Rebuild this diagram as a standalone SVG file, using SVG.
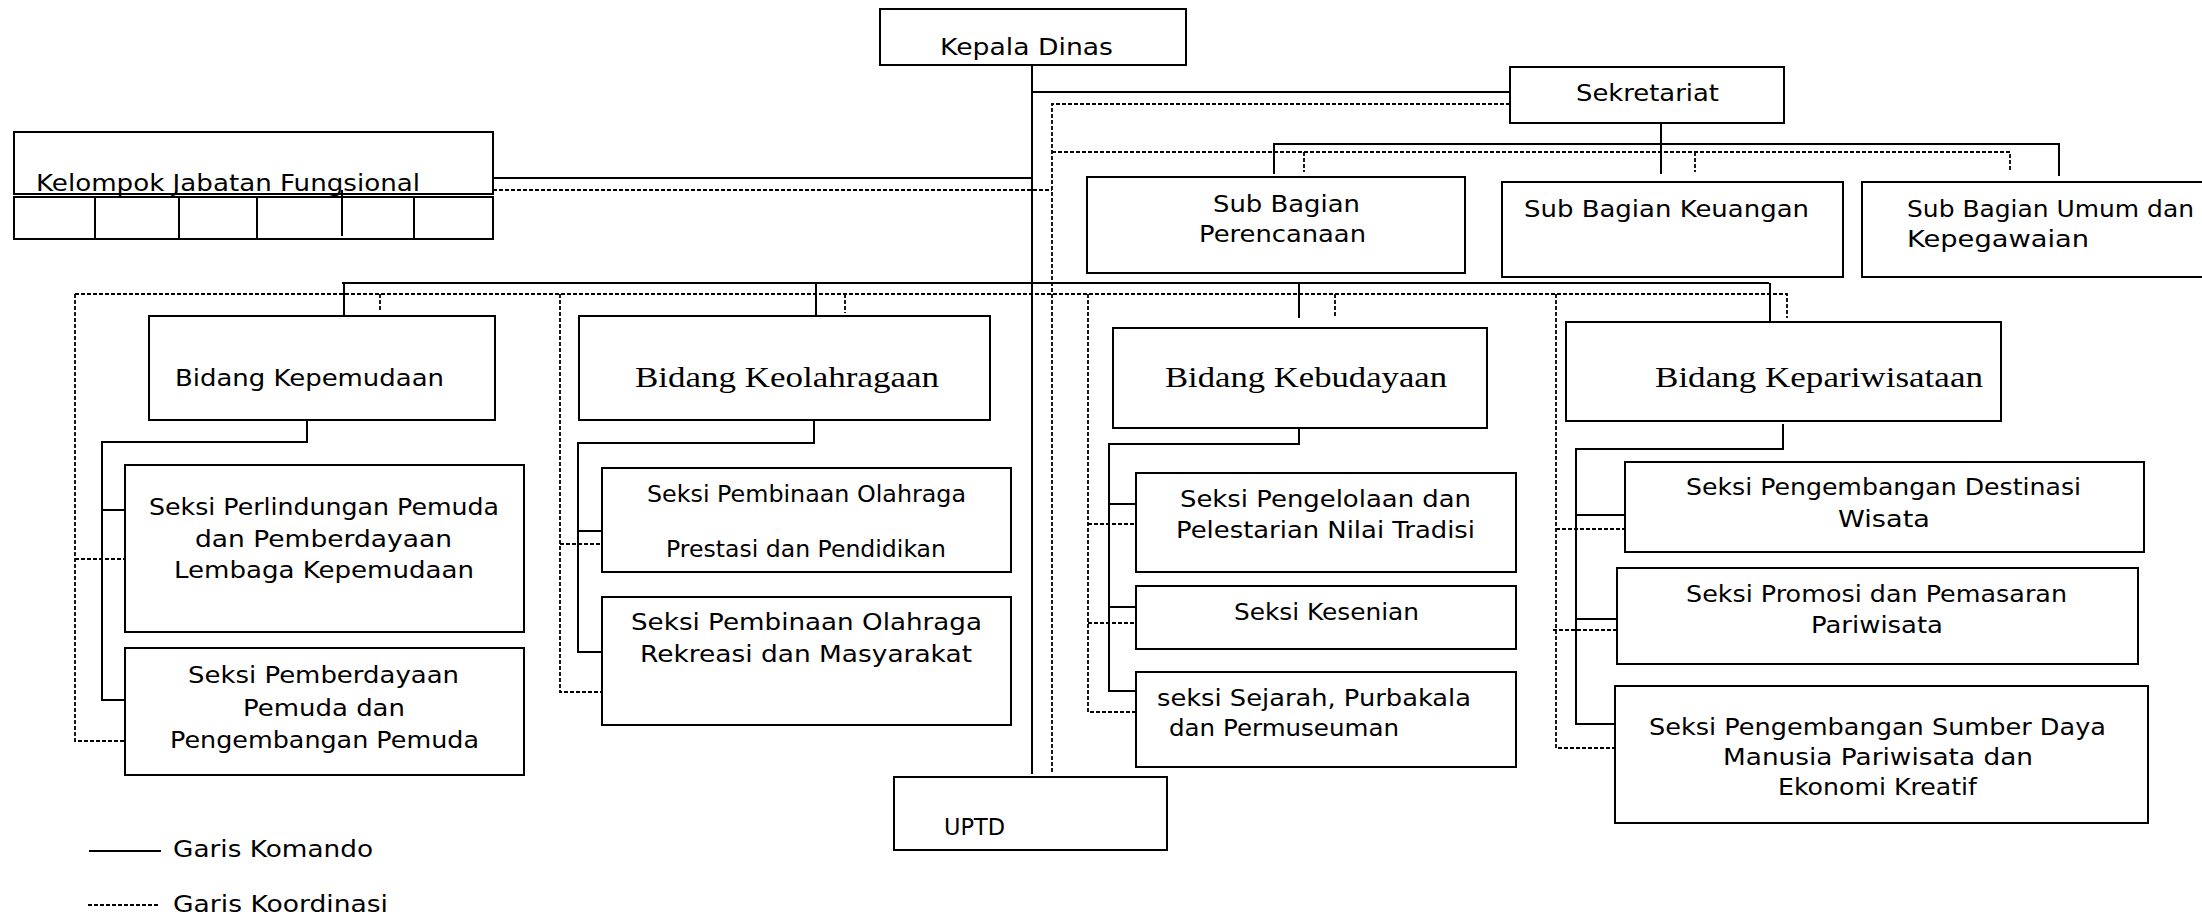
<svg xmlns="http://www.w3.org/2000/svg" width="2202" height="915" viewBox="0 0 2202 915">
<style>
.bx{fill:#fff;stroke:#000;stroke-width:2}
.s{fill:none;stroke:#000;stroke-width:2}
.d{fill:none;stroke:#000;stroke-width:1.8;stroke-dasharray:4 2}
.t{font-family:"DejaVu Sans","Liberation Sans",sans-serif;font-size:23px;fill:#000}
.sf{font-family:"Liberation Serif","DejaVu Serif",serif;font-size:30px;fill:#000}
.m{text-anchor:middle}
</style>
<rect width="2202" height="915" fill="#fff"/>
<g id="connectors">
<path class="s" d="M1032 65V774M1032 92H1510M493 178H1032M1661 123V174M1274 174V144H2059V176M342 283H1769M344 283V316M816 283V316M1299 283V318M1770 283V322"/>
<path class="s" d="M307 420V442H102V700H125M102 510H125"/>
<path class="s" d="M814 420V443H578V652H602M578 531H602"/>
<path class="s" d="M1299 428V444H1109V691H1136M1109 504H1136M1109 607H1136"/>
<path class="s" d="M1783 424V449H1576V724H1615M1576 515H1625M1576 619H1617"/>
<path class="d" d="M1510 104H1052V772M493 190H1052M1052 152H2010V172M1304 152V172M1695 152V172"/>
<path class="d" d="M75 294H1787V318M380 294V312M845 294V313M1335 294V317"/>
<path class="d" d="M75 294V741H125M75 559H125"/>
<path class="d" d="M560 294V692H602M560 544H602"/>
<path class="d" d="M1088 294V712H1136M1088 524H1136M1088 623H1136"/>
<path class="d" d="M1556 294V748H1621M1556 529H1625M1553 630H1617"/>
</g>
<g id="kepala-dinas"><rect class="bx" x="880" y="9" width="306" height="56"/><text class="t m" x="1026.5" y="55" textLength="173" lengthAdjust="spacingAndGlyphs">Kepala Dinas</text></g>
<g id="sekretariat"><rect class="bx" x="1510" y="67" width="274" height="56"/><text class="t m" x="1647.5" y="101" textLength="143" lengthAdjust="spacingAndGlyphs">Sekretariat</text></g>
<g id="kelompok-jabatan-fungsional">
<rect class="bx" x="14" y="132" width="479" height="62"/>
<rect class="bx" x="14" y="197" width="479" height="42"/>
<path class="s" d="M95 197V239M179 197V239M257 197V239M342 190V236M414 197V239"/>
<text class="t" x="36" y="191" textLength="384" lengthAdjust="spacingAndGlyphs">Kelompok Jabatan Fungsional</text>
</g>
<g id="sub-bagian-perencanaan"><rect class="bx" x="1087" y="177" width="378" height="96"/><text class="t m" x="1286.5" y="212" textLength="147" lengthAdjust="spacingAndGlyphs">Sub Bagian</text><text class="t m" x="1282.5" y="242" textLength="167" lengthAdjust="spacingAndGlyphs">Perencanaan</text></g>
<g id="sub-bagian-keuangan"><rect class="bx" x="1502" y="182" width="341" height="95"/><text class="t" x="1524" y="217" textLength="285" lengthAdjust="spacingAndGlyphs">Sub Bagian Keuangan</text></g>
<g id="sub-bagian-umum"><rect class="bx" x="1862" y="182" width="348" height="95"/><text class="t" x="1907" y="217" textLength="287" lengthAdjust="spacingAndGlyphs">Sub Bagian Umum dan</text><text class="t" x="1907" y="247" textLength="182" lengthAdjust="spacingAndGlyphs">Kepegawaian</text></g>
<g id="bidang-kepemudaan"><rect class="bx" x="149" y="316" width="346" height="104"/><text class="t" x="175" y="386" textLength="269" lengthAdjust="spacingAndGlyphs">Bidang Kepemudaan</text></g>
<g id="bidang-keolahragaan"><rect class="bx" x="579" y="316" width="411" height="104"/><text class="sf" x="635" y="387" textLength="304" lengthAdjust="spacingAndGlyphs">Bidang Keolahragaan</text></g>
<g id="bidang-kebudayaan"><rect class="bx" x="1113" y="328" width="374" height="100"/><text class="sf" x="1165" y="387" textLength="282" lengthAdjust="spacingAndGlyphs">Bidang Kebudayaan</text></g>
<g id="bidang-kepariwisataan"><rect class="bx" x="1566" y="322" width="435" height="99"/><text class="sf" x="1655" y="387" textLength="328" lengthAdjust="spacingAndGlyphs">Bidang Kepariwisataan</text></g>
<g id="seksi-perlindungan"><rect class="bx" x="125" y="465" width="399" height="167"/>
<text class="t" x="149" y="515" textLength="350" lengthAdjust="spacingAndGlyphs">Seksi Perlindungan Pemuda</text>
<text class="t" x="195" y="547" textLength="257" lengthAdjust="spacingAndGlyphs">dan Pemberdayaan</text>
<text class="t" x="174" y="578" textLength="300" lengthAdjust="spacingAndGlyphs">Lembaga Kepemudaan</text></g>
<g id="seksi-pemberdayaan"><rect class="bx" x="125" y="648" width="399" height="127"/>
<text class="t" x="188" y="683" textLength="271" lengthAdjust="spacingAndGlyphs">Seksi Pemberdayaan</text>
<text class="t" x="243" y="716" textLength="162" lengthAdjust="spacingAndGlyphs">Pemuda dan</text>
<text class="t" x="170" y="748" textLength="309" lengthAdjust="spacingAndGlyphs">Pengembangan Pemuda</text></g>
<g id="seksi-olahraga-prestasi"><rect class="bx" x="602" y="468" width="409" height="104"/>
<text class="t" x="647" y="502" textLength="319" lengthAdjust="spacingAndGlyphs">Seksi Pembinaan Olahraga</text>
<text class="t" x="666" y="557" textLength="280" lengthAdjust="spacingAndGlyphs">Prestasi dan Pendidikan</text></g>
<g id="seksi-olahraga-rekreasi"><rect class="bx" x="602" y="597" width="409" height="128"/>
<text class="t" x="631" y="630" textLength="351" lengthAdjust="spacingAndGlyphs">Seksi Pembinaan Olahraga</text>
<text class="t" x="640" y="662" textLength="332" lengthAdjust="spacingAndGlyphs">Rekreasi dan Masyarakat</text></g>
<g id="seksi-pengelolaan"><rect class="bx" x="1136" y="473" width="380" height="99"/>
<text class="t" x="1180" y="507" textLength="291" lengthAdjust="spacingAndGlyphs">Seksi Pengelolaan dan</text>
<text class="t" x="1176" y="538" textLength="299" lengthAdjust="spacingAndGlyphs">Pelestarian Nilai Tradisi</text></g>
<g id="seksi-kesenian"><rect class="bx" x="1136" y="586" width="380" height="63"/>
<text class="t" x="1234" y="620" textLength="185" lengthAdjust="spacingAndGlyphs">Seksi Kesenian</text></g>
<g id="seksi-sejarah"><rect class="bx" x="1136" y="672" width="380" height="95"/>
<text class="t" x="1157" y="706" textLength="314" lengthAdjust="spacingAndGlyphs">seksi Sejarah, Purbakala</text>
<text class="t" x="1169" y="736" textLength="230" lengthAdjust="spacingAndGlyphs">dan Permuseuman</text></g>
<g id="seksi-destinasi"><rect class="bx" x="1625" y="462" width="519" height="90"/>
<text class="t" x="1686" y="495" textLength="395" lengthAdjust="spacingAndGlyphs">Seksi Pengembangan Destinasi</text>
<text class="t" x="1838" y="527" textLength="92" lengthAdjust="spacingAndGlyphs">Wisata</text></g>
<g id="seksi-promosi"><rect class="bx" x="1617" y="568" width="521" height="96"/>
<text class="t" x="1686" y="602" textLength="381" lengthAdjust="spacingAndGlyphs">Seksi Promosi dan Pemasaran</text>
<text class="t" x="1811" y="633" textLength="132" lengthAdjust="spacingAndGlyphs">Pariwisata</text></g>
<g id="seksi-sdm"><rect class="bx" x="1615" y="686" width="533" height="137"/>
<text class="t" x="1649" y="735" textLength="457" lengthAdjust="spacingAndGlyphs">Seksi Pengembangan Sumber Daya</text>
<text class="t" x="1723" y="765" textLength="310" lengthAdjust="spacingAndGlyphs">Manusia Pariwisata dan</text>
<text class="t" x="1778" y="795" textLength="199" lengthAdjust="spacingAndGlyphs">Ekonomi Kreatif</text></g>
<g id="uptd"><rect class="bx" x="894" y="777" width="273" height="73"/>
<text class="t" x="944" y="835" textLength="61" lengthAdjust="spacingAndGlyphs">UPTD</text></g>
<g id="legend">
<path class="s" d="M89 851H161"/>
<text class="t" x="173" y="857" textLength="200" lengthAdjust="spacingAndGlyphs">Garis Komando</text>
<path class="d" d="M88 905H159"/>
<text class="t" x="173" y="912" textLength="215" lengthAdjust="spacingAndGlyphs">Garis Koordinasi</text>
</g>
</svg>
